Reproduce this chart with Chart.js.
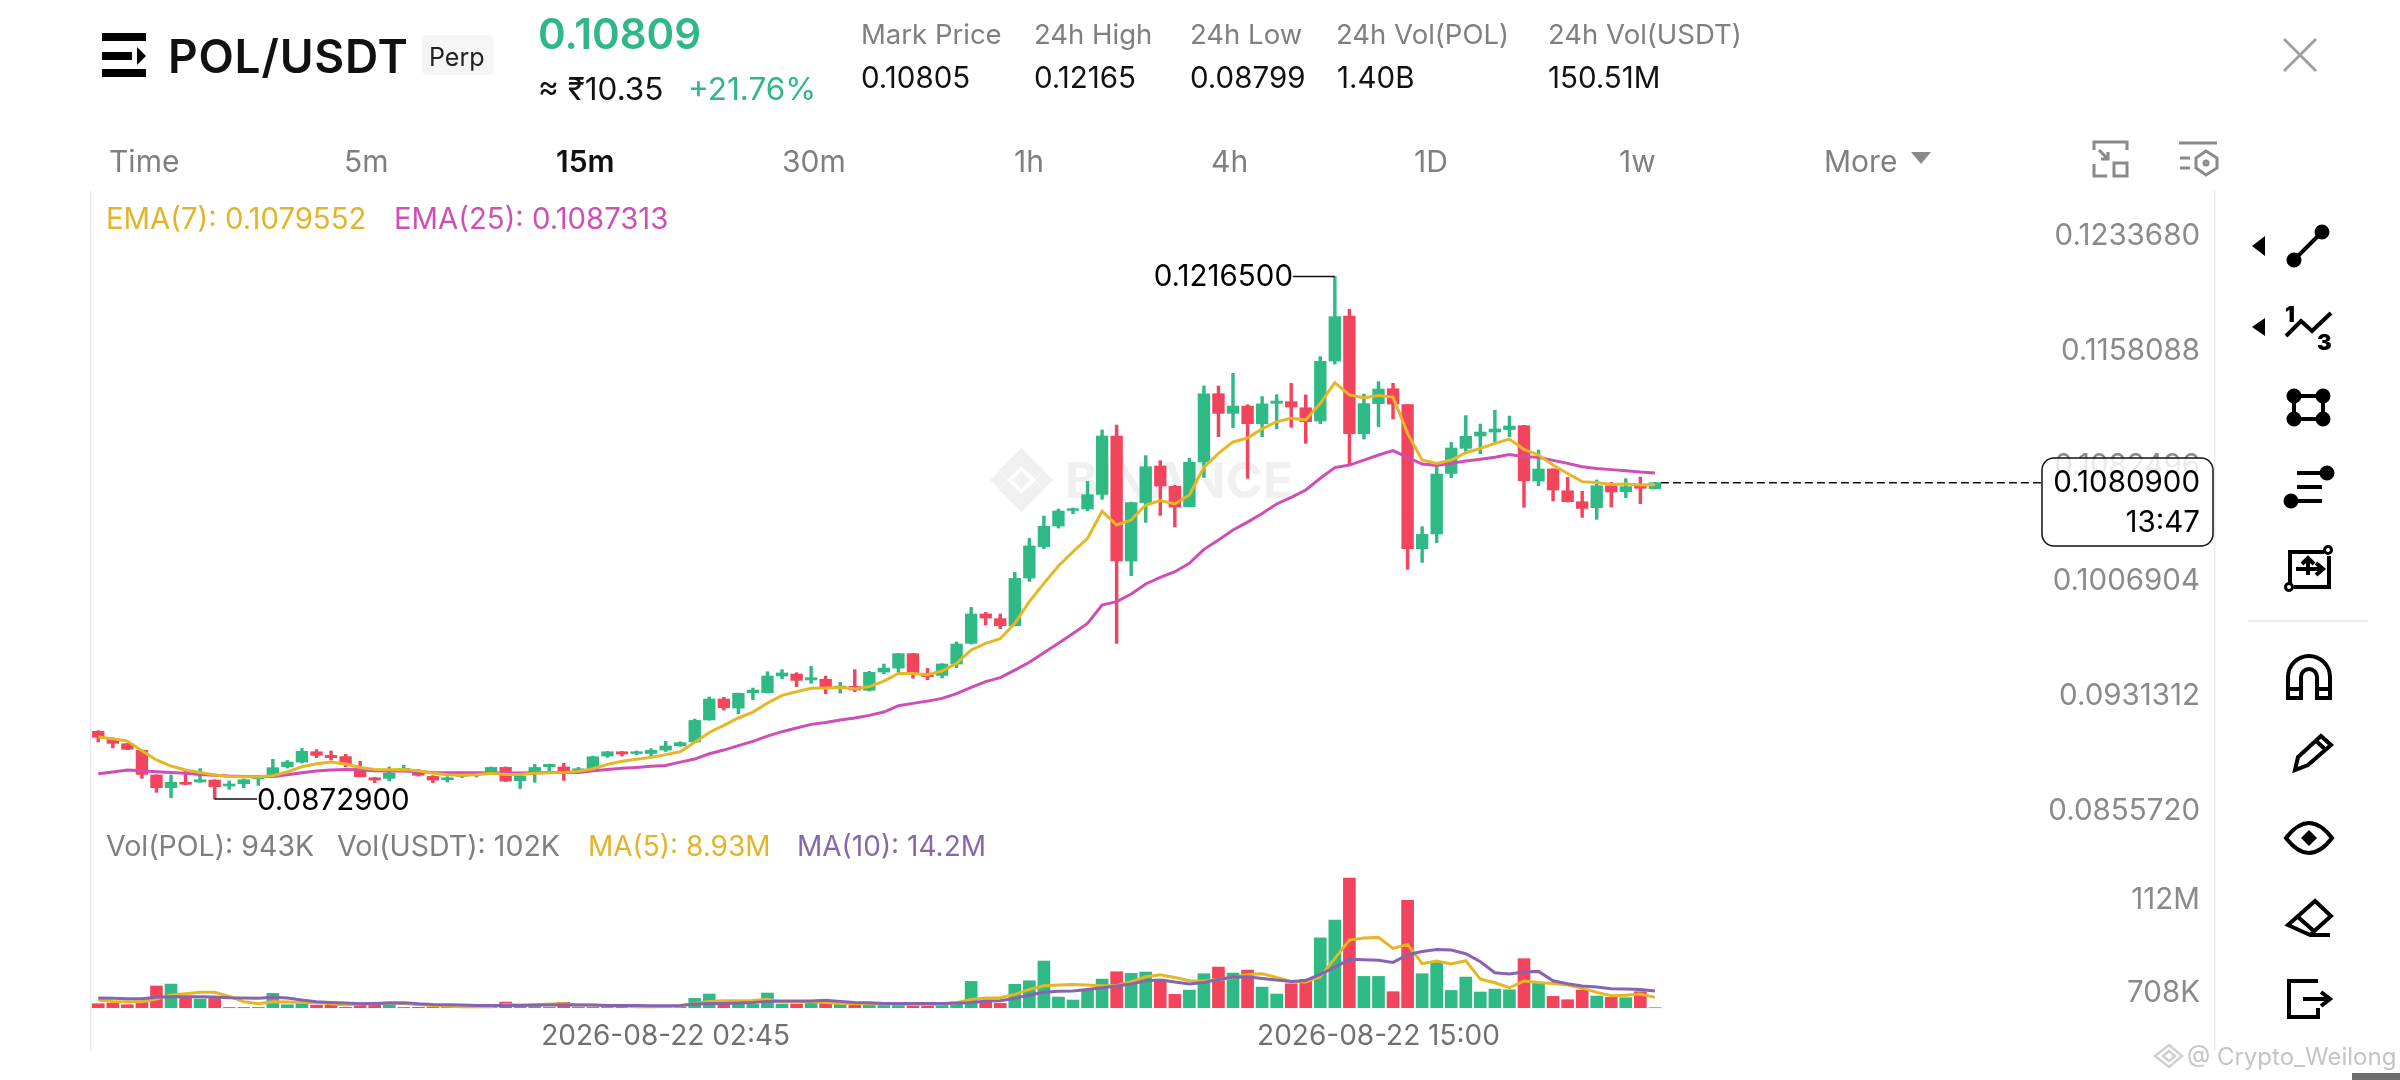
<!DOCTYPE html>
<html><head><meta charset="utf-8">
<script src="https://cdn.jsdelivr.net/npm/chart.js@4"></script>
<style>
html,body{margin:0;padding:0;background:#fff;width:2400px;height:1080px;overflow:hidden;font-family:Inter,sans-serif}
canvas{position:absolute;left:0;top:0;z-index:2}
.t{position:absolute;white-space:nowrap;line-height:1;transform:translateY(-50%);z-index:3}
.lab{color:#7f7f7f;font-size:27.5px}.val{color:#111;font-size:29.5px}
.tab{color:#7f7f7f;font-size:30px}
#wm{position:absolute;left:1065px;top:480px;transform:translateY(-50%);font:700 50px Inter,sans-serif;color:#f0f0f0;z-index:1}
svg{position:absolute;left:0;top:0}
</style></head><body>
<svg width="2400" height="1080" style="z-index:1"><g fill="#f0f0f0">
<polygon points="1021.5,448 1044,470 1035,479 1021.5,466 1008,479 999,470"/>
<polygon points="1021.5,512 1044,490 1035,481 1021.5,494 1008,481 999,490"/>
<polygon points="1021.5,471 1030.5,480 1021.5,489 1012.5,480"/>
<polygon points="999,471 1008,480 999,489 990,480"/>
<polygon points="1044,471 1053,480 1044,489 1035,480"/></g></svg>
<div id="wm">BINANCE</div>
<canvas id="c" width="2400" height="1080"></canvas>

<svg width="2400" height="1080" style="z-index:3;pointer-events:none" fill="none" stroke="#000" stroke-width="4">
<g stroke="none" fill="#000"><rect x="102" y="33" width="44" height="8"/><rect x="102" y="52" width="30" height="8"/><polygon points="137,47 146,56 137,65"/><rect x="102" y="69" width="44" height="8"/></g>
<g stroke="#a0a0a0" stroke-width="3"><line x1="2284" y1="39" x2="2316" y2="71"/><line x1="2316" y1="39" x2="2284" y2="71"/></g>
<polygon points="1911,152 1931,152 1921,164" fill="#8a8a8a" stroke="none"/>
<g stroke="#8a8a8a" stroke-width="3"><path d="M2094 150V142H2127V150M2094 164V176H2107M2099 150l9 9M2108 152v7h-7"/><rect x="2114" y="163" width="13" height="13"/>
<line x1="2179" y1="143" x2="2217" y2="143"/><line x1="2180" y1="158" x2="2190" y2="158"/><line x1="2180" y1="168" x2="2190" y2="168"/><polygon points="2206,151 2217,158 2217,168 2206,175 2196,168 2196,158"/><circle cx="2206" cy="163" r="2"/></g>
<g stroke="#d0d0d0" stroke-width="2.5"><polygon points="2169,1045 2182,1056 2169,1067 2155,1056"/><polygon points="2169,1051 2175,1056 2169,1061 2163,1056"/></g>
<g stroke="#000" stroke-width="4">
<polygon points="2252,246 2265,236 2265,256" fill="#000" stroke="none"/><polygon points="2252,327 2265,318 2265,336" fill="#000" stroke="none"/>
<line x1="2294" y1="260" x2="2322" y2="232"/><circle cx="2294" cy="260" r="5.5" fill="#000"/><circle cx="2322" cy="232" r="5.5" fill="#000"/>
<path d="M2286 336L2301 321L2312 331L2331 313"/><text x="2285" y="322" font-size="22" font-weight="900" fill="#000" stroke="none" font-family="Inter">1</text><text x="2317" y="350" font-size="22" font-weight="900" fill="#000" stroke="none" font-family="Inter">3</text>
<rect x="2294" y="396" width="29" height="23"/><g fill="#000"><circle cx="2294" cy="396" r="5.5"/><circle cx="2323" cy="396" r="5.5"/><circle cx="2294" cy="419" r="5.5"/><circle cx="2323" cy="419" r="5.5"/></g>
<path d="M2297 473H2326M2297 487H2322M2296 501H2322"/><circle cx="2327" cy="473" r="5.5" fill="#000"/><circle cx="2291" cy="501" r="5.5" fill="#000"/>
<path d="M2290 586V552H2324M2329 556V587H2294"/><circle cx="2328" cy="550" r="3.5" fill="#fff" stroke-width="3"/><circle cx="2289" cy="587" r="3.5" fill="#fff" stroke-width="3"/><path d="M2296 569H2322M2316 563l7 6-7 6M2308 575V559M2302 564l6-6 6 6"/>
<line x1="2248" y1="621" x2="2368" y2="621" stroke="#ececec" stroke-width="2"/>
<path d="M2288 698V677a20 20 0 0 1 42 0V698H2317V677a8 8 0 0 0-16 0V698ZM2288 689H2301M2317 689H2330"/>
<path d="M2295 770L2298 757L2321 736L2331 745L2308 765ZM2316 741L2326 750"/>
<path d="M2286 838Q2309 808 2332 838Q2309 868 2286 838Z"/><polygon points="2309,830 2317,838 2309,846 2301,838" fill="#000" stroke="none"/>
<path d="M2288 925L2315 901L2331 916L2310 935ZM2298 917L2315 932M2310 935H2330"/>
<path d="M2318 981H2289V1017H2318V1008M2303 999H2329M2321 992l9 7-9 7"/>
</g></svg>

<div class="t" style="left:168px;top:56px;font-size:46px;font-weight:600;color:#111;letter-spacing:.8px">POL/USDT</div>
<div style="position:absolute;left:422px;top:35px;width:72px;height:40px;background:#f5f5f5;border-radius:5px;z-index:2"></div>
<div class="t" style="left:429px;top:57px;font-size:25px;color:#222">Perp</div>
<div class="t" style="left:538px;top:34px;font-size:42px;font-weight:600;color:#2fb785">0.10809</div>
<div class="t" style="left:538px;top:89px;font-size:31.5px;color:#111">≈ ₹10.35</div>
<div class="t" style="left:688px;top:89px;font-size:31.5px;color:#2fb785">+21.76%</div>
<div class="t lab" style="left:861px;top:35px">Mark Price</div><div class="t val" style="left:861px;top:78px">0.10805</div>
<div class="t lab" style="left:1034px;top:35px">24h High</div><div class="t val" style="left:1034px;top:78px">0.12165</div>
<div class="t lab" style="left:1190px;top:35px">24h Low</div><div class="t val" style="left:1190px;top:78px">0.08799</div>
<div class="t lab" style="left:1336px;top:35px">24h Vol(POL)</div><div class="t val" style="left:1337px;top:78px">1.40B</div>
<div class="t lab" style="left:1548px;top:35px">24h Vol(USDT)</div><div class="t val" style="left:1548px;top:78px">150.51M</div>
<div class="t tab" style="left:109px;top:161px">Time</div>
<div class="t tab" style="left:344px;top:161px">5m</div>
<div class="t tab" style="left:556px;top:161px;color:#111;font-weight:600">15m</div>
<div class="t tab" style="left:782px;top:161px">30m</div>
<div class="t tab" style="left:1014px;top:161px">1h</div>
<div class="t tab" style="left:1211px;top:161px">4h</div>
<div class="t tab" style="left:1414px;top:161px">1D</div>
<div class="t tab" style="left:1619px;top:161px">1w</div>
<div class="t tab" style="left:1824px;top:161px">More</div>
<div class="t" style="left:106px;top:219px;font-size:29.3px;color:#e3b42a">EMA(7): 0.1079552</div>
<div class="t" style="left:394px;top:219px;font-size:29.3px;color:#cf50b3">EMA(25): 0.1087313</div>
<div class="t" style="left:106px;top:846px;font-size:28.5px;color:#7f7f7f">Vol(POL): 943K</div>
<div class="t" style="left:337px;top:846px;font-size:28.5px;color:#7f7f7f">Vol(USDT): 102K</div>
<div class="t" style="left:588px;top:846px;font-size:28px;color:#e3b42a">MA(5): 8.93M</div>
<div class="t" style="left:797px;top:846px;font-size:28px;color:#8467ad">MA(10): 14.2M</div>
<div class="t" style="left:2187px;top:1057px;font-size:24px;color:#c4c4c4">@ Crypto_Weilong</div>
<div style="position:absolute;left:2352px;top:1073px;width:48px;height:7px;background:#6e6e6e;z-index:3"></div>

<script>
const opens=[.09174,.09126,.09093,.09049,.08887,.08804,.08839,.08841,.08854,.08815,.0883,.08863,.08874,.08942,.08972,.0904,.09016,.09008,.08931,.08869,.08865,.08924,.08915,.08878,.08856,.08878,.08889,.08902,.08937,.0885,.08902,.08942,.0894,.08902,.08928,.09012,.0904,.09029,.09029,.09051,.0908,.09104,.09249,.09387,.09327,.09428,.09428,.09538,.09551,.09512,.09516,.09457,.0947,.09444,.09564,.0959,.09685,.09551,.09542,.09617,.09753,.09946,.09915,.09869,.10182,.10388,.10524,.10627,.10636,.10732,.11116,.10294,.10678,.10919,.10785,.10651,.10945,.11394,.11265,.11313,.11197,.11331,.11342,.11302,.11215,.11609,.11905,.11131,.11329,.11427,.11322,.10375,.10472,.1087,.11035,.11116,.11142,.11158,.11184,.1082,.10899,.10756,.10684,.10645,.10789,.1075,.10789,.1077];
const highs=[.09179,.09132,.09095,.09051,.08889,.08887,.08915,.08929,.08856,.08848,.08861,.08876,.0899,.08983,.09062,.09054,.09045,.09023,.08977,.08871,.0894,.08951,.08924,.08883,.08876,.08887,.08902,.0894,.0894,.08885,.08957,.08959,.08964,.08937,.09012,.09042,.09042,.09045,.0906,.09108,.09106,.09255,.094,.09398,.09426,.09459,.09566,.0958,.0956,.09601,.09538,.09496,.0958,.09569,.09617,.09687,.09687,.09588,.09619,.09762,.09989,.09956,.09946,.1022,.10443,.1059,.10636,.10643,.10818,.11156,.11188,.10682,.10987,.10954,.10792,.10971,.11445,.11445,.11528,.11322,.11375,.11388,.11462,.11386,.11638,.12165,.11949,.11392,.11473,.11462,.11324,.1052,.10914,.11074,.1125,.11195,.11285,.11247,.11186,.11024,.10901,.10844,.10752,.10827,.10811,.10835,.10846,.10811];
const lows=[.09104,.09065,.09054,.08865,.08773,.08738,.08823,.08839,.08729,.08793,.08804,.08819,.08871,.08933,.08966,.09001,.08986,.08942,.08874,.08837,.08848,.08913,.0888,.08837,.08841,.08869,.08874,.08898,.08845,.08797,.08839,.08915,.08852,.08898,.0892,.09003,.09012,.09021,.09014,.09042,.09075,.091,.09248,.09314,.0929,.09382,.09426,.0952,.09468,.0949,.09422,.09426,.09435,.09439,.09553,.09564,.09523,.09514,.09525,.09593,.09748,.09873,.09849,.09867,.1016,.10375,.10511,.10605,.10625,.107,.09753,.10198,.10548,.10594,.10518,.10649,.10844,.11112,.11171,.10838,.11112,.11164,.11173,.11068,.11197,.11589,.10932,.11096,.11177,.11228,.10239,.10285,.10415,.10842,.11013,.11,.11066,.11112,.10647,.10789,.10689,.10682,.10581,.10568,.10649,.1071,.10671,.10767];
const closes=[.09135,.09095,.09056,.08891,.08804,.08839,.08826,.08856,.0881,.08828,.08856,.08872,.08935,.08972,.09043,.09016,.09001,.08955,.08876,.08854,.089,.08931,.08885,.08854,.08869,.08885,.08898,.08937,.08847,.0888,.08937,.08957,.08911,.08928,.09007,.0904,.09025,.0904,.09049,.09078,.091,.09246,.09387,.0933,.09424,.09446,.09538,.09558,.09509,.09527,.09463,.09472,.09446,.09562,.0959,.09685,.0956,.09534,.09617,.09748,.09946,.09919,.09869,.1018,.10393,.10522,.10623,.10638,.1073,.11116,.10294,.10678,.10914,.10787,.10649,.10943,.11394,.11265,.11313,.11197,.11327,.11346,.11307,.1121,.11607,.11901,.11131,.11329,.11425,.11326,.10375,.10469,.10866,.11037,.11114,.11142,.11162,.11182,.10822,.10899,.10761,.10684,.1064,.10789,.10748,.10783,.10772,.10809];
const ema7=[.09137,.09126,.0911,.09047,.08986,.08946,.0892,.08904,.08887,.08878,.08876,.08876,.08882,.08907,.08942,.08961,.08972,.08959,.08937,.08924,.08922,.08924,.08915,.08898,.08889,.08885,.08889,.08898,.08891,.08891,.08898,.08902,.08904,.08911,.08928,.08957,.08977,.0899,.09003,.09021,.0904,.09102,.09167,.09213,.09262,.09301,.0936,.09411,.09435,.09457,.09459,.09463,.09455,.09468,.09505,.09555,.09555,.09547,.09571,.09621,.09709,.09753,.09783,.09884,.10027,.10147,.10261,.10355,.10443,.10621,.10531,.10564,.10662,.10691,.10669,.10728,.1091,.11002,.11077,.11103,.11164,.1121,.11232,.11221,.11331,.11467,.11386,.11368,.11383,.11372,.11133,.10958,.10936,.10958,.11006,.11035,.11068,.11096,.11028,.10991,.10925,.1087,.10816,.10811,.10798,.108,.10794,.10796];
const ema25=[.08896,.08907,.0892,.08915,.08909,.08904,.08898,.08891,.08885,.0888,.08878,.08878,.08878,.08889,.08902,.08913,.0892,.08924,.08922,.08915,.08913,.08913,.08909,.08904,.08902,.08902,.08902,.089,.089,.089,.08902,.08904,.08904,.08904,.08915,.08924,.08931,.08937,.08944,.0895,.08972,.08992,.09027,.09051,.0908,.09108,.09143,.09172,.09196,.0922,.09233,.09249,.09262,.09279,.09301,.09343,.09358,.09373,.09391,.09422,.09463,.09501,.09527,.09577,.09628,.09691,.09753,.09818,.09884,.10005,.10027,.10077,.10143,.10187,.10224,.10279,.10371,.10432,.10498,.1055,.10607,.10669,.10713,.10761,.10838,.10908,.10925,.10958,.10991,.1102,.10976,.10932,.10923,.10936,.10952,.10963,.10976,.10995,.1098,.10976,.10956,.10936,.10914,.10903,.10895,.10888,.10879,.10873];
const volumes=[4.8,5.6,3.6,6.4,26,28.3,11.6,10.4,11.2,.4,.4,.4,17.2,3.6,4.8,3.2,3.2,.4,3.6,3.6,3.6,.4,.4,.4,.4,.4,.4,.4,6.8,2.8,2.8,.6,6.4,.6,.6,.6,.6,.6,.6,.6,.6,11.2,16.4,5.2,4.4,4,17.6,4.4,4.4,6,6.8,4,5.2,4,3.6,3.6,2.8,2.8,2.8,5.2,31.5,7.2,5.2,28,32.3,55.9,12.8,9.2,21.1,34.3,43.1,41.1,42.7,33.9,16,21.1,40.7,48.7,41.5,45.1,24.7,16.4,28.7,33.9,83.8,104.9,155.2,37.5,37.5,19.2,128.5,40.7,55,20.7,36.7,18.8,22.3,21.5,58.7,29.9,13.6,9.6,21.1,14,12.4,12,19.2,.1];
const ma5=[9.2,7.6,7.2,7.2,10.4,15.2,16.8,18.4,18.4,13.6,7.2,4.8,7.2,6.8,6.4,6.4,4.8,3.2,4.4,4.8,6,5.2,4,2.8,2,1.2,1.2,1.2,4,3.2,3.2,4.4,4.8,3.2,3.2,2.4,2.4,1.2,1.2,1.6,2,5.2,7.6,8.4,8.4,8.8,10,7.2,7.6,7.2,6.4,5.2,5.2,4.8,4.4,4.4,4,4,4.4,6,10,11.6,12,16,21.9,26.3,27.1,27.9,27.1,26.3,26.3,31.1,37.1,39.5,36.3,32.3,31.9,33.9,36.3,39.9,40.7,36.3,31.5,30.7,37.1,59.1,81,83.4,84.2,71,75.8,52.7,55.9,52.3,56.3,34.3,29.9,23.9,31.9,30.3,29.1,27.1,23.5,18.4,14.4,14.8,16.4,12.4];
const ma10=[11.6,11.2,10.8,10.8,12.4,13.2,13.2,13.2,12.8,12,11.6,11.2,12.4,11.6,9.2,7.2,6.4,5.6,4.8,5.2,5.6,6,4.8,4,3.6,3.2,2.8,2.8,2.8,2.8,3.2,3.2,3.6,3.2,3.2,2.8,2.8,2.8,2.4,2.4,2.8,4.4,5.2,5.2,5.6,6.4,7.6,8,8,8,8.8,7.6,6.4,6,5.2,5.2,5.2,5.2,5.2,5.6,6,8,8.4,11.2,15.2,18.4,19.6,20,21.9,23.9,25.9,28.3,32.3,33.1,30.7,28.3,30.3,33.9,36.7,37.1,35.1,33.1,31.5,32.7,39.9,48.3,57.9,57.5,56.7,54.3,63.4,67.4,69.8,69,64.6,55.1,41.9,40.3,42.7,43.5,32.3,28.7,25.9,24.7,22.7,22.3,21.9,20];
const priceTicks=[0.123368,0.1158088,0.1082496,0.1006904,0.0931312,0.085572];
const volTicks=[112,0.708];
const volTickLabels=['112M','708K'];
const timeTickIndex=[39,88];
const slots=146, startMs=Date.UTC(2026,7,21,17,0);
const pad=n=>String(n).padStart(2,'0');
const categories=Array.from({length:slots},(_,i)=>{const d=new Date(startMs+i*9e5);return `${d.getUTCFullYear()}-${pad(d.getUTCMonth()+1)}-${pad(d.getUTCDate())} ${pad(d.getUTCHours())}:${pad(d.getUTCMinutes())}`;});
const lastPrice=0.10809, highPrice=0.12165, lowPrice=0.08729, highIdx=85, lowIdx=8;
const UP='#2fb985', DOWN='#f2445d', YEL='#e6b624', MAG='#cf4db5', PUR='#8664b0';
const col=closes.map((c,i)=>c>=opens[i]?UP:DOWN);
const FONT='Inter, sans-serif';
const overlay={id:'overlay',afterDraw(ch){
  const {ctx,scales:{x,y}}=ch;const f='29.5px '+FONT;
  ctx.save();ctx.strokeStyle='#111';ctx.fillStyle='#000';ctx.lineWidth=1.5;ctx.font=f;ctx.textBaseline='middle';
  const hy=y.getPixelForValue(highPrice),hx=x.getPixelForValue(highIdx);
  ctx.beginPath();ctx.moveTo(1293,hy);ctx.lineTo(hx,hy);ctx.stroke();
  ctx.textAlign='right';ctx.fillText('0.1216500',1293,hy+1);
  const ly=y.getPixelForValue(lowPrice),lx=x.getPixelForValue(lowIdx);
  ctx.beginPath();ctx.moveTo(lx,ly);ctx.lineTo(257,ly);ctx.stroke();
  ctx.textAlign='left';ctx.fillText('0.0872900',257,ly+2);
  const py=y.getPixelForValue(lastPrice);
  ctx.setLineDash([8,4]);ctx.beginPath();ctx.moveTo(x.getPixelForValue(107)+6,py);ctx.lineTo(2042,py);ctx.stroke();ctx.setLineDash([]);
  ctx.fillStyle='rgba(255,255,255,.82)';ctx.beginPath();ctx.roundRect(2042,458,171,88,12);ctx.fill();ctx.stroke();
  ctx.fillStyle='#000';ctx.textAlign='right';ctx.fillText('0.1080900',2200,py);ctx.fillText('13:47',2200,523);
  ctx.restore();
}};
const line=(data,c,axis,order,w)=>({type:'line',data,borderColor:c,borderWidth:w,pointRadius:0,tension:0,yAxisID:axis,order,fill:false});
const zeroW=s=>{s.width=0};
new Chart(document.getElementById('c'),{
  type:'bar',
  plugins:[overlay],
  data:{labels:categories,datasets:[
    line(ma10,PUR,'yVol',0,3),
    line(ma5,YEL,'yVol',1,3),
    {data:volumes,backgroundColor:col,barThickness:12,yAxisID:'yVol',grouped:false,order:5},
    line(ema25,MAG,'y',2,3),
    line(ema7,YEL,'y',1,3),
    {data:opens.map((o,i)=>[o,closes[i]]),backgroundColor:col,barThickness:11.7,yAxisID:'y',grouped:false,order:3},
    {data:lows.map((l,i)=>[l,highs[i]]),backgroundColor:col,barThickness:2.8,yAxisID:'y',grouped:false,order:4}
  ]},
  options:{responsive:false,animation:false,devicePixelRatio:1,
    layout:{padding:{left:91,right:185,top:192,bottom:30}},
    plugins:{legend:{display:false},tooltip:{enabled:false}},
    scales:{
      x:{type:'category',offset:true,grid:{display:false,drawTicks:false},border:{display:false},
        afterFit:s=>{s.height=0},
        afterBuildTicks:s=>{s.ticks=timeTickIndex.map(i=>({value:i}))},
        ticks:{mirror:true,maxRotation:0,minRotation:0,padding:-3,color:'#707070',font:{family:FONT,size:28},
          callback:v=>categories[v]}},
      y:{position:'right',min:0.07079,max:0.127204,grid:{display:false,drawTicks:false},border:{color:'#ececec',width:1.5},
        afterFit:zeroW,
        afterBuildTicks:s=>{s.ticks=priceTicks.map(v=>({value:v}))},
        ticks:{mirror:true,padding:-15,labelOffset:-14,color:'#8a8a8a',font:{family:FONT,size:29.5},callback:v=>v.toFixed(7)}},
      yVol:{position:'right',min:-50.6,max:976.4,grid:{display:false,drawTicks:false},border:{display:false},
        afterFit:zeroW,
        afterBuildTicks:s=>{s.ticks=volTicks.map(v=>({value:v}))},
        ticks:{mirror:true,padding:-15,labelOffset:-14,color:'#8a8a8a',font:{family:FONT,size:29.5},callback:v=>volTickLabels[volTicks.indexOf(v)]}},
      yLeft:{position:'left',afterFit:zeroW,grid:{display:false,drawTicks:false},border:{color:'#ececec',width:1.5},ticks:{display:false}}
    }
  }
});
</script>
</body></html>
